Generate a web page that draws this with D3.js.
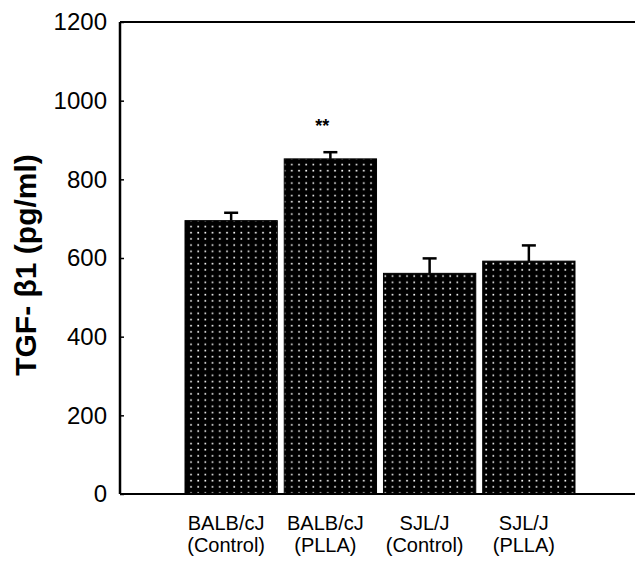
<!DOCTYPE html>
<html>
<head>
<meta charset="utf-8">
<script src="https://cdn.jsdelivr.net/npm/d3@7"></script>
<style>
  html, body { margin: 0; padding: 0; background: #fff; }
  svg { display: block; }
</style>
</head>
<body>
<svg id="chart" width="635" height="561"></svg>
<script>
const categories = ["BALB/cJ|(Control)", "BALB/cJ|(PLLA)", "SJL/J|(Control)", "SJL/J|(PLLA)"];
const values = [695, 852, 561, 592];
const errors = [20, 17, 38, 40];
const yTicks = [0, 200, 400, 600, 800, 1000, 1200];
const annotations = ["", "**", "", ""];

const svg = d3.select("#chart");
const W = 635, H = 561;
const x0 = 120, yBottom = 494, yTop = 22;

const defs = svg.append("defs");
const pat = defs.append("pattern")
  .attr("id", "dots").attr("patternUnits", "userSpaceOnUse")
  .attr("width", 7.2).attr("height", 6.2);
pat.append("rect").attr("width", 7.2).attr("height", 6.2).attr("fill", "#000");
pat.append("rect").attr("x", 3).attr("y", 2.5).attr("width", 1.6).attr("height", 1.6).attr("fill", "#fff");

const x = d3.scaleBand().domain(categories).range([185, 575]).paddingInner(0.07).paddingOuter(0);
const y = d3.scaleLinear().domain([0, 1200]).range([yBottom, yTop]);

// bars
svg.append("g").selectAll("rect").data(categories).join("rect")
  .attr("x", d => x(d))
  .attr("y", (d, i) => y(values[i]))
  .attr("width", x.bandwidth())
  .attr("height", (d, i) => y(0) - y(values[i]))
  .attr("fill", "url(#dots)")
  .attr("stroke", "#000").attr("stroke-width", 1);

// error bars
const eb = svg.append("g").attr("stroke", "#000");
categories.forEach((c, i) => {
  const cx = x(c) + x.bandwidth() / 2;
  eb.append("line").attr("x1", cx).attr("x2", cx)
    .attr("y1", y(values[i])).attr("y2", y(values[i] + errors[i])).attr("stroke-width", 2.5);
  eb.append("line").attr("x1", cx - 7).attr("x2", cx + 7)
    .attr("y1", y(values[i] + errors[i])).attr("y2", y(values[i] + errors[i])).attr("stroke-width", 2.5);
});

// annotations
svg.append("g").selectAll("text").data(annotations).join("text")
  .attr("x", (d, i) => x(categories[i]) + x.bandwidth() / 2 - 8)
  .attr("y", (d, i) => y(values[i] + errors[i]) - 20)
  .attr("text-anchor", "middle")
  .attr("font-family", "Liberation Sans, Arial, sans-serif")
  .attr("font-weight", "bold").attr("font-size", 18)
  .text(d => d);

// frame lines
svg.append("line").attr("x1", x0).attr("x2", W).attr("y1", yTop).attr("y2", yTop)
  .attr("stroke", "#000").attr("stroke-width", 2);
svg.append("line").attr("x1", x0).attr("x2", W).attr("y1", yBottom).attr("y2", yBottom)
  .attr("stroke", "#000").attr("stroke-width", 2);

// y axis
const yAxis = d3.axisLeft(y).tickValues(yTicks).tickSize(-4).tickPadding(13).tickFormat(d3.format("d"));
const gy = svg.append("g").attr("transform", `translate(${x0},0)`).call(yAxis);
gy.select(".domain").attr("stroke-width", 2.5).attr("d", `M0,${yTop}V${yBottom}`);
gy.selectAll(".tick line").attr("stroke-width", 1.5);
gy.selectAll(".tick text")
  .attr("font-family", "Liberation Sans, Arial, sans-serif")
  .attr("font-size", 24).attr("fill", "#000");

// x labels
const gx = svg.append("g");
categories.forEach(c => {
  const parts = c.split("|");
  const cx = x(c) + x.bandwidth() / 2 - 5;
  const t = gx.append("text").attr("text-anchor", "middle")
    .attr("font-family", "Liberation Sans, Arial, sans-serif")
    .attr("font-size", 20).attr("fill", "#000");
  t.append("tspan").attr("x", cx).attr("y", 530).text(parts[0]);
  t.append("tspan").attr("x", cx).attr("y", 552).text(parts[1]);
});

// y title
svg.append("text")
  .attr("transform", "translate(36,265) rotate(-90)")
  .attr("text-anchor", "middle")
  .attr("font-family", "Liberation Sans, Arial, sans-serif")
  .attr("font-weight", "bold").attr("font-size", 30)
  .text("TGF- β1 (pg/ml)");
</script>
</body>
</html>
